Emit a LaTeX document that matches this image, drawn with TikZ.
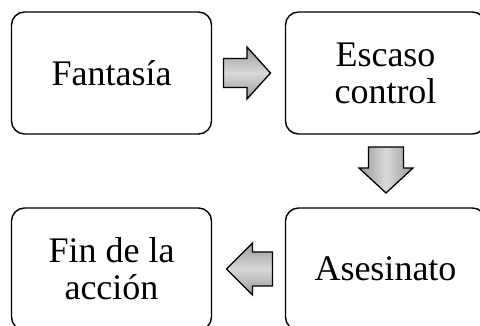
\documentclass[tikz,border=0pt]{standalone}
\usepackage{fontspec}
\setmainfont{Liberation Serif}
\usetikzlibrary{calc}
\begin{document}
\begin{tikzpicture}[x=1pt,y=-1pt,
  box/.style={draw=black, line width=1.4pt, rounded corners=13pt, minimum width=200pt, minimum height=122pt, inner sep=0pt, align=center, font=\fontsize{36}{37}\selectfont},
  harr/.style={draw=black, line width=1.3pt, line join=miter, top color=gray!80, bottom color=gray!80, middle color=gray!30},
  varr/.style={draw=black, line width=1.3pt, line join=miter, left color=gray!80, right color=gray!80, middle color=gray!30}]
\useasboundingbox (0,0) rectangle (480,325);
\node[box] (f) at (111.5,73) {Fantasía};
\node[box] (e) at (385.5,73) {Escaso\\control};
\node[box] (a) at (385.5,269) {Asesinato};
\node[box] (l) at (111.5,269) {Fin de la\\acción};
% right arrow
\coordinate (c1) at ($(f.east)!0.5!(e.west)+(-1.5,0)$);
\draw[harr] (c1) ++(-23.5,-14.5) -- ++(23.5,0) -- ++(0,-11.5) -- ++(23.5,26) -- ++(-23.5,26) -- ++(0,-11.5) -- ++(-23.5,0) -- cycle;
% down arrow
\coordinate (c2) at ($(e.south)!0.5!(a.north)+(0.5,-1)$);
\draw[varr] (c2) ++(-17.5,-23) -- ++(35,0) -- ++(0,21) -- ++(9.5,0) -- ++(-27,25) -- ++(-27,-25) -- ++(9.5,0) -- cycle;
% left arrow
\coordinate (c3) at ($(a.west)!0.5!(l.east)+(1,0)$);
\draw[harr] (c3) ++(23,-17) -- ++(-20,0) -- ++(0,-9) -- ++(-26,26) -- ++(26,26) -- ++(0,-9) -- ++(20,0) -- cycle;
\end{tikzpicture}
\end{document}
